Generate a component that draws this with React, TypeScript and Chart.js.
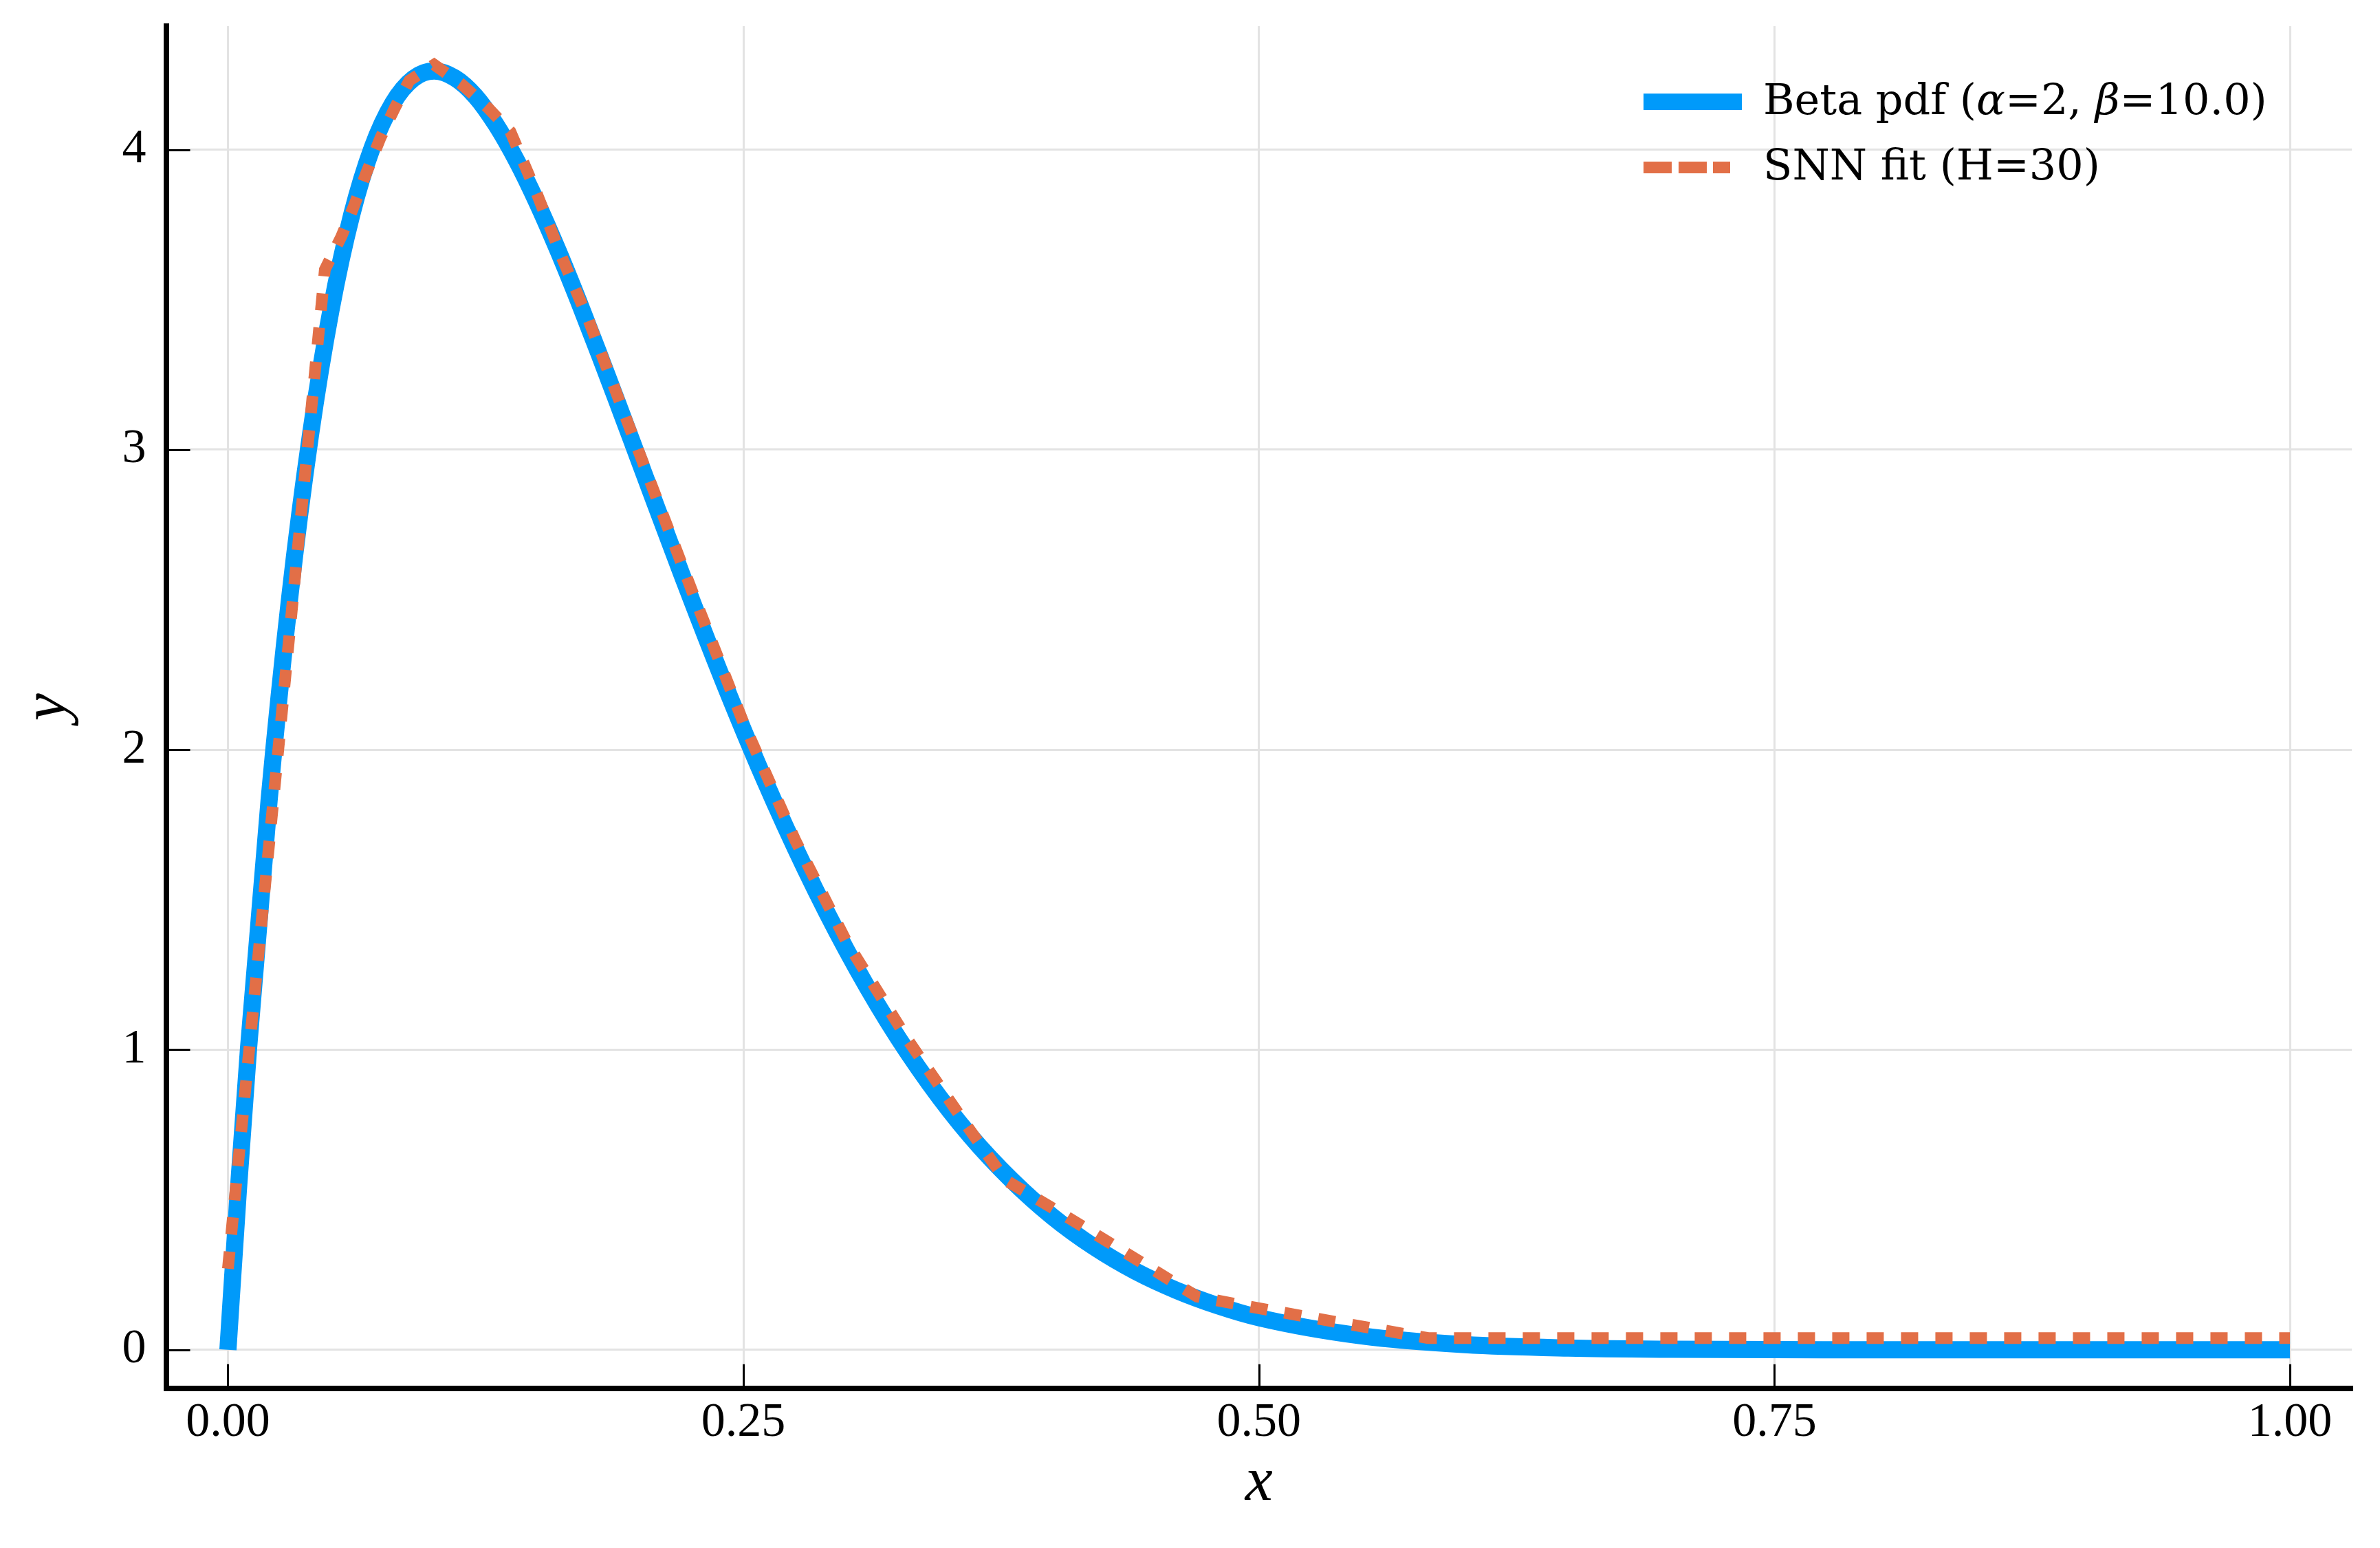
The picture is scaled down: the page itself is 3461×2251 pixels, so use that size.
import React, { useEffect, useRef } from "react";
import { Chart, registerables } from "chart.js";

Chart.register(...registerables);

// ---- data ----
const betaX = [
  0, 0.005, 0.01, 0.02, 0.03, 0.04, 0.05, 0.06, 0.07, 0.08, 0.09, 0.1, 0.11, 0.12, 0.13, 0.14, 0.15,
  0.16, 0.17, 0.18, 0.19, 0.2, 0.22, 0.24, 0.26, 0.28, 0.3, 0.32, 0.34, 0.36, 0.38, 0.4, 0.42, 0.44,
  0.46, 0.48, 0.5, 0.55, 0.6, 0.65, 0.7, 0.75, 0.8, 0.85, 0.9, 0.95, 1.0,
];
const betaY = [
  0, 0.526, 1.005, 1.834, 2.509, 3.047, 3.466, 3.782, 4.007, 4.155, 4.237, 4.262, 4.239, 4.178, 4.083,
  3.963, 3.822, 3.665, 3.496, 3.319, 3.137, 2.953, 2.586, 2.233, 1.903, 1.602, 1.332, 1.094, 0.889,
  0.713, 0.566, 0.443, 0.343, 0.262, 0.198, 0.147, 0.107, 0.046, 0.017, 0.0056, 0.0015, 0.0003,
  0.0001, 0, 0, 0, 0,
];

const fitX = [
  0, 0.047, 0.055, 0.061, 0.067, 0.074, 0.081, 0.088, 0.1, 0.113, 0.126, 0.137, 0.15, 0.162, 0.175,
  0.2, 0.225, 0.25, 0.275, 0.3, 0.33, 0.358, 0.377, 0.406, 0.434, 0.47, 0.494, 0.51, 0.543, 0.582, 1.0,
];
const fitY = [
  0.27, 3.6, 3.71, 3.81, 3.92, 4.04, 4.14, 4.23, 4.283, 4.22, 4.14, 4.06, 3.85, 3.64, 3.43, 2.98,
  2.53, 2.09, 1.7, 1.36, 1.03, 0.75, 0.566, 0.447, 0.329, 0.177, 0.146, 0.126, 0.086, 0.039, 0.039,
];

const seriesNames = ["Beta pdf (α=2, β=10.0)", "SNN fit (H=30)"];
const xTickValues = [0, 0.25, 0.5, 0.75, 1.0];
const xTickLabels = ["0.00", "0.25", "0.50", "0.75", "1.00"];
const yTickValues = [0, 1, 2, 3, 4];
const yTickLabels = ["0", "1", "2", "3", "4"];
const xTitle = "x";
const yTitle = "y";

// ---- styling ----
const W = 3461;
const H = 2251;
const BLUE = "#009AFA";
const ORANGE = "#E26F47";
const TICK_FONT = '"Liberation Serif"';
const LEGEND_FONT = '"DejaVu Serif"';

const inwardTicks = {
  id: "inwardTicks",
  beforeDatasetsDraw(chart: any) {
    const { ctx, chartArea: ca, scales } = chart;
    const xs = scales.x;
    const ys = scales.y;
    ctx.save();
    ctx.strokeStyle = "#000";
    ctx.lineWidth = 3;
    ctx.beginPath();
    yTickValues.forEach((v) => {
      const py = Math.round(ys.getPixelForValue(v)) + 0.5;
      ctx.moveTo(ca.left, py);
      ctx.lineTo(ca.left + 35, py);
    });
    xTickValues.forEach((v) => {
      const px = Math.round(xs.getPixelForValue(v)) + 0.5;
      ctx.moveTo(px, ca.bottom);
      ctx.lineTo(px, ca.bottom - 35);
    });
    ctx.stroke();
    ctx.restore();
  },
};

const isGreek = (c: string) => /[\u0370-\u03FF]/.test(c);

function drawMixed(ctx: CanvasRenderingContext2D, text: string, x: number, y: number, size: number) {
  let cx = x;
  let buf = "";
  let bufItalic = false;
  const flush = () => {
    if (!buf) return;
    ctx.font = `${bufItalic ? "italic " : ""}${size}px ${LEGEND_FONT}`;
    ctx.fillText(buf, cx, y);
    cx += ctx.measureText(buf).width;
    buf = "";
  };
  for (const ch of text) {
    const it = isGreek(ch);
    if (it !== bufItalic) {
      flush();
      bufItalic = it;
    }
    buf += ch;
  }
  flush();
}

const customLegend = {
  id: "customLegend",
  afterDraw(chart: any) {
    const ctx: CanvasRenderingContext2D = chart.ctx;
    ctx.save();
    const lx = 2390;
    const tx = 2564;
    // entry 1: solid blue
    ctx.fillStyle = BLUE;
    ctx.fillRect(lx, 136, 143, 24);
    // entry 2: dotted orange
    ctx.fillStyle = ORANGE;
    ctx.fillRect(lx, 235, 41, 17);
    ctx.fillRect(lx + 51, 235, 41, 17);
    ctx.fillRect(lx + 101, 235, 25, 17);
    ctx.fillStyle = "#000";
    ctx.textBaseline = "alphabetic";
    ctx.textAlign = "left";
    drawMixed(ctx, seriesNames[0], tx, 166, 62);
    drawMixed(ctx, seriesNames[1], tx, 261, 62);
    ctx.restore();
  },
};

export default function App() {
  const canvasRef = useRef<HTMLCanvasElement | null>(null);

  useEffect(() => {
    document.body.style.margin = "0";
    document.body.style.background = "#fff";
    const canvas = canvasRef.current;
    if (!canvas) return;

    const chart = new Chart(canvas, {
      type: "line",
      data: {
        datasets: [
          {
            label: seriesNames[1],
            data: fitX.map((x, i) => ({ x, y: fitY[i] })),
            borderColor: ORANGE,
            backgroundColor: ORANGE,
            borderWidth: 17,
            borderDash: [25, 25],
            borderCapStyle: "butt",
            borderJoinStyle: "miter",
            pointRadius: 0,
            tension: 0,
            fill: false,
            order: 1,
          },
          {
            label: seriesNames[0],
            data: betaX.map((x, i) => ({ x, y: betaY[i] })),
            borderColor: BLUE,
            backgroundColor: BLUE,
            borderWidth: 25,
            borderCapStyle: "butt",
            borderJoinStyle: "round",
            pointRadius: 0,
            cubicInterpolationMode: "monotone",
            fill: false,
            order: 2,
          },
        ],
      },
      options: {
        responsive: false,
        animation: false,
        devicePixelRatio: 1,
        layout: { padding: { left: 0, top: 38, right: 41, bottom: 0 } },
        plugins: {
          legend: { display: false },
          tooltip: { enabled: false },
        },
        scales: {
          x: {
            type: "linear",
            min: -0.03,
            max: 1.03,
            afterBuildTicks: (s: any) => {
              s.ticks = xTickValues.map((v) => ({ value: v }));
            },
            afterFit: (s: any) => {
              s.height = 232.2;
              s.paddingLeft = 0;
              s.paddingRight = 0;
              s.paddingTop = 0;
              s.paddingBottom = 0;
            },
            ticks: {
              autoSkip: false,
              maxRotation: 0,
              minRotation: 0,
              padding: 9,
              color: "#000",
              font: { family: TICK_FONT, size: 70 },
              callback: (v: any) => xTickLabels[xTickValues.indexOf(Number(v))],
            },
            grid: { color: "#e3e3e3", lineWidth: 3, drawTicks: false },
            border: { display: true, color: "#000", width: 8 },
            title: {
              display: true,
              text: xTitle,
              color: "#000",
              font: { family: TICK_FONT, size: 90, style: "italic" },
              padding: { top: 0, bottom: 40 },
            },
          },
          y: {
            type: "linear",
            min: -0.1285,
            max: 4.4115,
            afterBuildTicks: (s: any) => {
              s.ticks = yTickValues.map((v) => ({ value: v }));
            },
            afterFit: (s: any) => {
              s.width = 241.5;
              s.paddingLeft = 0;
              s.paddingRight = 0;
              s.paddingTop = 0;
              s.paddingBottom = 0;
            },
            ticks: {
              autoSkip: false,
              padding: 29,
              color: "#000",
              font: { family: TICK_FONT, size: 70 },
              callback: (v: any) => yTickLabels[yTickValues.indexOf(Number(v))],
            },
            grid: { color: "#e3e3e3", lineWidth: 3, drawTicks: false },
            border: { display: true, color: "#000", width: 8 },
            title: {
              display: true,
              text: yTitle,
              color: "#000",
              font: { family: TICK_FONT, size: 90, style: "italic" },
              padding: { top: 17.6, bottom: 0 },
            },
          },
        },
      } as any,
      plugins: [inwardTicks, customLegend],
    });

    return () => chart.destroy();
  }, []);

  return (
    <canvas
      ref={canvasRef}
      width={W}
      height={H}
      style={{ display: "block", width: W + "px", height: H + "px" }}
    />
  );
}
